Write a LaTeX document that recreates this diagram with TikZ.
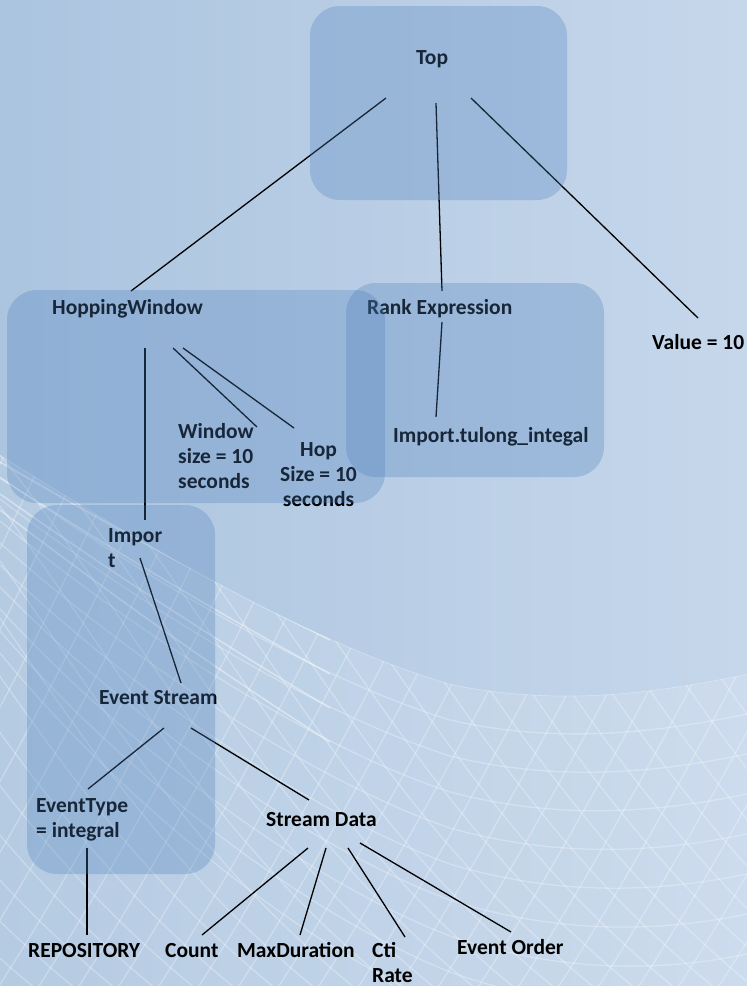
\documentclass[tikz,border=0pt]{standalone}
\usepackage{fontspec}
\setmainfont{Carlito}
\usetikzlibrary{calc}
\definecolor{panelblue}{HTML}{4F81BD}
\definecolor{bgleft}{HTML}{ABC4DF}
\definecolor{bgright}{HTML}{C6D7EB}
\begin{document}
\begin{tikzpicture}[x=1pt,y=-1pt,
  lbl/.style={anchor=base west, inner sep=0pt,
    font=\bfseries\fontsize{21.5}{25}\selectfont, text=black},
  link/.style={line width=1.3pt, black},
  panel/.style={fill=panelblue, fill opacity=0.3, rounded corners=30pt},
  meshline/.style={white, line width=1.3pt, opacity=0.28}]
\useasboundingbox (0,0) rectangle (747,986);

% background
\shade[left color=bgleft, right color=bgright] (0,0) rectangle (747,986);

% wire mesh in the lower part
\begin{scope}
  \clip (0,455) .. controls (120,530) and (300,640) .. (450,684)
        .. controls (560,707) and (660,692) .. (747,674)
        -- (747,986) -- (0,986) -- cycle;
  \fill[white, opacity=0.12] (0,0) rectangle (747,986);
  \foreach \k in {-12,...,24}
    \draw[meshline] (\k*40-150,420) .. controls (\k*40+10,600) and (\k*40+100,820) .. (\k*40+330,1000);
  \foreach \k in {-4,...,30}
    \draw[meshline] (\k*40+60,420) .. controls (\k*40-30,620) and (\k*40-140,830) .. (\k*40-250,1000);
  \foreach \j in {0,...,9}
    \draw[meshline] (0,455+\j*22) .. controls (120,530+\j*30) and (300,640+\j*34) .. (450,684+\j*36)
        .. controls (560,707+\j*38) and (660,692+\j*40) .. (747,674+\j*40);
  % a few brighter strands near the left edge
  \foreach \j in {0,...,3}
    \draw[white, line width=1.6pt, opacity=0.4] (0,462+\j*16) .. controls (100,520+\j*22) and (200,575+\j*28) .. (330,640+\j*34);
\end{scope}

% labels
\node[lbl] (top)   at (416,64)  {Top};
\node[lbl] (hw)    at (52,314)  {HoppingWindow};
\node[lbl] (rank)  at (367,314) {Rank Expression};
\node[lbl] (val)   at (652,349) {Value = 10};
\node[lbl] (tul)   at (393,442) {Import.tulong\_integal};
\node[lbl] (win)   at (178,438) {\begin{tabular}[t]{@{}l@{}}Window\\size = 10\\seconds\end{tabular}};
\node[lbl] (hop)   at (280,456) {\begin{tabular}[t]{@{}c@{}}Hop\\Size = 10\\seconds\end{tabular}};
\node[lbl] (imp)   at (108,542) {\begin{tabular}[t]{@{}l@{}}Impor\\t\end{tabular}};
\node[lbl] (es)    at (99,704)  {Event Stream};
\node[lbl] (et)    at (36,812)  {\begin{tabular}[t]{@{}l@{}}EventType\\= integral\end{tabular}};
\node[lbl] (sd)    at (266,826) {Stream Data};
\node[lbl] (repo)  at (28,957)  {REPOSITORY};
\node[lbl] (cnt)   at (165,957) {Count};
\node[lbl] (maxd)  at (237,957) {MaxDuration};
\node[lbl] (cti)   at (372,957) {\begin{tabular}[t]{@{}l@{}}Cti\\Rate\end{tabular}};
\node[lbl] (eo)    at (457,954) {Event Order};

% connectors
\draw[link] ($(top.base west)+(-30,34)$) -- ($(hw.base west)+(79,-23)$);
\draw[link] ($(top.base west)+(20,39)$)  -- ($(rank.base west)+(75,-23)$);
\draw[link] ($(top.base west)+(55,34)$)  -- ($(val.base west)+(46,-31)$);
\draw[link] ($(rank.base west)+(75,8)$)  -- ($(tul.base west)+(43,-25)$);
\draw[link] ($(hw.base west)+(93,34)$)   -- ($(imp.base west)+(37,-22)$);
\draw[link] ($(hw.base west)+(121,34)$)  -- ($(win.base west)+(79,-11)$);
\draw[link] ($(hw.base west)+(131,34)$)  -- ($(hop.base west)+(14,-28)$);
\draw[link] ($(imp.base west)+(32,16)$)  -- ($(es.base west)+(82,-21)$);
\draw[link] ($(es.base west)+(65,24)$)   -- ($(et.base west)+(52,-23)$);
\draw[link] ($(es.base west)+(92,24)$)   -- ($(sd.base west)+(43,-26)$);
\draw[link] ($(et.base west)+(51,36)$)   -- ($(repo.base west)+(59,-22)$);
\draw[link] ($(sd.base west)+(42,22)$)   -- ($(cnt.base west)+(37,-22)$);
\draw[link] ($(sd.base west)+(60,22)$)   -- ($(maxd.base west)+(63,-22)$);
\draw[link] ($(sd.base west)+(82,22)$)   -- ($(cti.base west)+(33,-20)$);
\draw[link] ($(sd.base west)+(94,17)$)   -- ($(eo.base west)+(54,-22)$);

% translucent panels laid over the tree
\path[panel] (310,6)   rectangle (567,200);
\path[panel] (7,290)   rectangle (385,503);
\path[panel] (346,283) rectangle (604,477);
\path[panel] (27,505)  rectangle (215,874);
\end{tikzpicture}
\end{document}
